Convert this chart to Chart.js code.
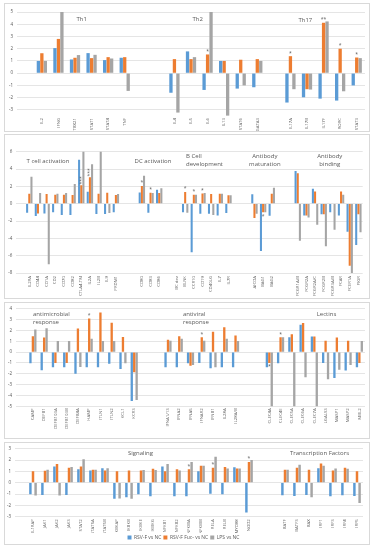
<!DOCTYPE html>
<html>
<head>
<meta charset="utf-8">
<script src="https://cdn.jsdelivr.net/npm/chart.js@4.4.1/dist/chart.umd.min.js"></script>
<style>
  body { margin: 0; background: #fff; width: 374px; height: 550px; position: relative; overflow: hidden; }
  canvas { position: absolute; }
  .box { position: absolute; box-sizing: border-box; border: 1px solid #d9d9d9; pointer-events: none; }
</style>
</head>
<body>
<canvas id="p1" width="366" height="129" style="left:4px;top:3px"></canvas>
<canvas id="p2" width="366" height="165" style="left:4px;top:134px"></canvas>
<canvas id="p3" width="366" height="137" style="left:4px;top:302px"></canvas>
<canvas id="p4" width="366" height="108" style="left:4px;top:442px"></canvas>
<div class="box" style="left:4px;top:3px;width:366px;height:129px"></div>
<div class="box" style="left:4px;top:134px;width:366px;height:165px"></div>
<div class="box" style="left:4px;top:302px;width:366px;height:137px"></div>
<div class="box" style="left:4px;top:442px;width:366px;height:103px"></div>
<script>
// series names
const seriesNames = ['RSV-F vs NC', 'RSV-F Fuc- vs NC', 'LPS vs NC'];
const colors = ['#5B9BD5', '#ED7D31', '#A5A5A5'];

// panel 1 - T helper subsets
const cats1 = ['', 'IL2', 'IFNG', 'TBX21', 'STAT1', 'STAT4', 'TNF', '', '', 'IL4', 'IL5', 'IL6', 'IL13', 'STAT6', 'GATA3', '', 'IL17A', 'IL17B', 'IL17F', 'RORC', 'STAT3'];
const blue1 = [null, 1.0, 2.05, 1.12, 1.64, 1.07, 1.26, null, null, -1.6, 1.78, -1.37, 1.0, -1.26, -1.15, null, -2.4, -1.97, -2.08, -2.24, -1.0];
const orange1 = [null, 1.63, 2.8, 1.26, 1.23, 1.31, 1.31, null, null, 1.15, 1.15, 1.53, 1.0, 1.1, 1.15, null, 1.39, -1.31, 4.12, 2.0, 1.28];
const gray1 = [null, 1.0, 5.6, 1.48, 1.5, 1.2, -1.45, null, null, -3.22, 1.31, 5.6, -3.47, -1.0, 1.0, null, -1.31, -1.34, 4.23, -1.48, 1.23];

// panel 2 - activation / B cells / antibodies
const cats2 = ['', 'IL2RA', 'CD44', 'CD1A', 'CD2', 'CD70', 'CD82', 'CTLA4-TM', 'IL2A', 'IL2B', 'IL9', 'PRDM1', '', '',
  'CD80', 'CD83', 'CD86', '', 'BC dev', 'BLNK', 'CCR10', 'CD19', 'CD40LG', 'IL7', 'IL7R', '', '',
  'AICDA', 'BAG1', 'BAG2', '', '', 'FCGR1A/B', 'FCGR2A', 'FCGR2A/C', 'FCGR2B', 'FCGR3A/B', 'FCAR', 'FCER1A', 'PIGR'];
const blue2 = [null, -1.04, -1.42, -1.12, -1.0, -1.3, -1.3, 5.08, 1.38, -1.2, -1.2, -1.0, null, null,
  1.3, -1.04, 1.6, null, null, -1.0, -5.6, -1.15, -1.15, -1.35, -1.08, null, null,
  1.08, -5.45, -1.38, null, null, 3.77, -1.35, 1.73, -1.23, -1.0, -1.35, -3.23, -4.77];
const orange2 = [null, 1.15, -1.12, 1.12, 1.04, 1.04, 1.0, 2.12, 3.04, 1.15, 1.27, 1.0, null, null,
  2.04, 1.27, 1.23, null, null, 1.35, 1.04, 1.19, 1.12, 1.15, 0.96, null, null,
  -1.65, -1.0, 1.15, null, null, 3.5, -1.35, 1.42, -1.23, null, 1.42, -7.15, -1.23];
const gray2 = [null, 3.1, 1.23, -7.0, 1.15, 1.23, 2.27, 6.5, 4.54, 6.5, -1.08, 1.12, null, null,
  3.23, 1.23, 1.77, null, null, -1.04, 1.04, 1.23, -1.3, 1.15, 0.96, null, null,
  -1.17, -1.0, 1.85, null, null, -4.27, -1.58, -2.42, -4.92, -3.0, 1.04, -8.6, -3.3];

// panel 3 - antimicrobial / antiviral / lectins
const cats3 = ['', 'CAMP', 'DEFB1', 'DEFB103A', 'DEFB103B', 'DEFB4A', 'HAMP', 'ITLN1', 'ITLN2', 'KCL1', 'KCR3', '', '',
  'IFNA1/13', 'IFNA2', 'IFNA5', 'IFNAR2', 'IFNB1', 'IL28A', 'IL28A/B', '', '',
  'CLEC4A', 'CLEC4E', 'CLEC5A', 'CLEC6A', 'CLEC7A', 'LGALS3', 'MASP1', 'MASP2', 'MBL2'];
const blue3 = [null, -1.04, -1.67, -1.4, -1.4, -2.0, -1.4, -1.4, -1.07, -1.55, -4.5, null, null,
  -1.4, -1.4, -1.04, -1.01, -1.49, -1.4, -1.4, null, null,
  -1.4, -1.04, 1.37, 2.53, 1.43, -1.01, -2.38, -1.7, -1.4];
const orange3 = [null, 1.46, 1.34, -1.01, -1.01, 2.17, 3.1, 3.66, 2.7, 1.4, -1.85, null, null,
  1.13, 1.46, -1.25, 1.37, 1.88, 2.29, 1.52, null, null,
  -1.01, 1.37, 1.64, 2.68, 1.43, 1.04, 1.34, 1.04, -1.01];
const gray3 = [null, 2.08, 2.2, 1.01, 1.01, -1.37, 1.22, 1.01, 1.01, -1.04, -4.43, null, null,
  1.04, 1.22, -1.19, 1.04, -1.4, 1.22, 1.01, null, null,
  -5.5, 1.37, -5.5, -2.32, -5.5, -2.5, -1.64, -1.19, 1.01];

// panel 4 - signaling / transcription factors
const cats4 = ['', 'IL1RAP', 'JAK1', 'JAK2', 'JAK3', 'STAT2', 'STAT5A', 'STAT5B', 'IKBKAP', 'IKBKB', 'IKBKE', 'IKBKG',
  'NFKB1', 'NFKB2', 'NFKBIA', 'NFKBIB', 'RELA', 'RELB', 'MYD88', 'NOD2', '', '',
  'BATF', 'BATF3', 'BAX', 'IRF1', 'IRF3', 'IRF4', 'IRF5'];
const blue4 = [null, -1.03, -1.08, 1.42, -1.08, 1.19, 1.08, 1.28, -1.42, -1.28, -1.03, -1.19,
  1.42, -1.19, -1.19, 1.0, -0.97, -1.03, 1.36, -2.64, null, null,
  -1.11, -1.17, -1.08, 1.28, -1.19, -1.11, -1.17];
const orange4 = [null, 1.0, 1.06, 1.64, 1.31, 1.42, 1.14, 1.08, 1.0, 1.08, 1.08, 1.22,
  1.0, 1.19, 1.19, 1.5, 1.33, 1.39, 1.25, 1.83, null, null,
  1.14, 1.31, 1.14, 1.69, 1.08, 1.31, 1.0];
const gray4 = [null, -1.14, 1.14, -1.14, 1.39, 2.08, 1.14, 1.28, -1.39, -1.42, 1.11, 1.11,
  1.64, 1.08, 1.83, 1.5, 2.3, 1.25, 1.25, 2.0, null, null,
  1.14, 1.58, -1.28, 1.5, 1.25, 1.22, -1.8];

// significance marks (put on the orange bar)
const marks1 = [['IL6', '*'], ['IL17A', '*'], ['IL17F', '**'], ['RORC', '*'], ['STAT3', '*']];
const marks2 = [['CTLA4-TM', '***', true], ['IL2A', '***', true], ['CD80', '*'], ['CD83', '*'], ['BLNK', '*'], ['CCR10', '*'], ['CD19', '*'], ['BAG1', '*']];
const marks3 = [['HAMP', '*'], ['IFNAR2', '*'], ['CLEC4A', '*'], ['CLEC4E', '*']];
const marks4 = [['NFKBIA', '*'], ['RELA', '*'], ['NOD2', '*']];

const textColor = '#595959';
const family = '"Open Sans", sans-serif';

// draws group titles and the asterisks
function overlay(titles, marks, cats, size) {
  return {
    id: 'overlay',
    afterDatasetsDraw(chart) {
      const { ctx } = chart;
      const { x, y } = chart.scales;
      ctx.save();
      ctx.fillStyle = textColor;
      ctx.textBaseline = 'middle';
      ctx.font = size + 'px ' + family;
      titles.forEach(t => {
        ctx.textAlign = t.align || 'center';
        const px = x.getPixelForValue(t.at);
        const py = y.getPixelForValue(t.y);
        const lines = t.text.split('\n');
        lines.forEach((ln, i) => {
          ctx.fillText(ln, px, py + (i - (lines.length - 1) / 2) * size * 1.3);
        });
      });
      ctx.font = '5px ' + family;
      ctx.textAlign = 'center';
      const meta = chart.getDatasetMeta(1);
      marks.forEach(m => {
        const i = cats.indexOf(m[0]);
        const el = meta.data[i];
        const v = chart.data.datasets[1].data[i];
        if (!el || v == null) return;
        const off = m[2] ? 5 : 3;
        const py = v >= 0 ? el.y - off : el.y + off + 1;
        if (m[2]) {
          ctx.save();
          ctx.translate(el.x, py);
          ctx.rotate(-Math.PI / 2);
          ctx.fillText(m[1], 0, 0);
          ctx.restore();
        } else {
          ctx.fillText(m[1], el.x, py);
        }
      });
      ctx.restore();
    }
  };
}

function makePanel(id, cats, blue, orange, gray, cfg) {
  const series = [blue, orange, gray];
  new Chart(document.getElementById(id), {
    type: 'bar',
    plugins: [overlay(cfg.titles, cfg.marks, cats, cfg.titleSize || 6)],
    data: {
      labels: cats,
      datasets: series.map((d, i) => ({
        label: seriesNames[i],
        data: d,
        backgroundColor: colors[i],
        barPercentage: 0.95,
        categoryPercentage: cfg.catPct
      }))
    },
    options: {
      responsive: false,
      animation: false,
      devicePixelRatio: 1,
      layout: { padding: cfg.pad },
      plugins: {
        tooltip: { enabled: false },
        legend: {
          display: !!cfg.legend,
          position: 'bottom',
          labels: { boxWidth: 4, boxHeight: 4, padding: 2, color: textColor, font: { size: 5, family } }
        }
      },
      scales: {
        x: {
          grid: { display: false, drawTicks: false },
          border: { display: false },
          ticks: { autoSkip: false, minRotation: 90, maxRotation: 90, padding: cfg.tickPad || 2, color: textColor, font: { size: 4.3, family } },
          afterFit: s => { s.height = cfg.xh; }
        },
        y: {
          min: cfg.min,
          max: cfg.max,
          grid: { color: '#dedede', lineWidth: 0.8, drawTicks: false },
          border: { display: false },
          ticks: { stepSize: cfg.step, padding: 4, color: textColor, font: { size: 4.5, family } },
          afterBuildTicks: s => { s.ticks = s.ticks.filter(t => Number.isInteger(t.value)); },
          afterFit: s => { s.width = cfg.yw; }
        }
      }
    }
  });
}

makePanel('p1', cats1, blue1, orange1, gray1, {
  min: -3.5, max: 5, step: 1, yw: 13, xh: 16, catPct: 0.63, tickPad: 2,
  pad: { left: 0, right: 5, top: 9, bottom: 0 },
  marks: marks1,
  titles: [
    { text: 'Th1', at: 3.4, y: 4.43 },
    { text: 'Th2', at: 10.4, y: 4.43 },
    { text: 'Th17', at: 16.9, y: 4.35 }
  ]
});

makePanel('p2', cats2, blue2, orange2, gray2, {
  min: -8, max: 6, step: 2, yw: 12.3, xh: 26, catPct: 0.75, tickPad: 3,
  pad: { left: 0, right: 7.3, top: 17.7, bottom: 0 },
  marks: marks2,
  titles: [
    { text: 'T cell activation', at: 3.16, y: 4.93 },
    { text: 'DC activation', at: 15.28, y: 4.93 },
    { text: 'B Cell\ndevelopment', at: 19.1, y: 4.98, align: 'left' },
    { text: 'Antibody\nmaturation', at: 28.2, y: 4.98 },
    { text: 'Antibody\nbinding', at: 35.7, y: 4.98 }
  ]
});

makePanel('p3', cats3, blue3, orange3, gray3, {
  min: -5, max: 4, step: 1, yw: 12, xh: 32.7, catPct: 0.65, tickPad: 2,
  pad: { left: 0, right: 5, top: 3.7, bottom: 0 },
  marks: marks3,
  titles: [
    { text: 'antimicrobial\nresponse', at: 1.01, y: 3.08, align: 'left' },
    { text: 'antiviral\nresponse', at: 14.33, y: 3.08, align: 'left' },
    { text: 'Lectins', at: 27.08, y: 3.44 }
  ]
});

makePanel('p4', cats4, blue4, orange4, gray4, {
  min: -3, max: 3, step: 1, yw: 11, xh: 16.3, catPct: 0.65, legend: true, tickPad: 2.5,
  pad: { left: 0, right: 7, top: 3, bottom: 0 },
  marks: marks4,
  titles: [
    { text: 'Signaling', at: 9.96, y: 2.58 },
    { text: 'Transcription Factors', at: 24.875, y: 2.58 }
  ]
});
</script>
</body>
</html>
